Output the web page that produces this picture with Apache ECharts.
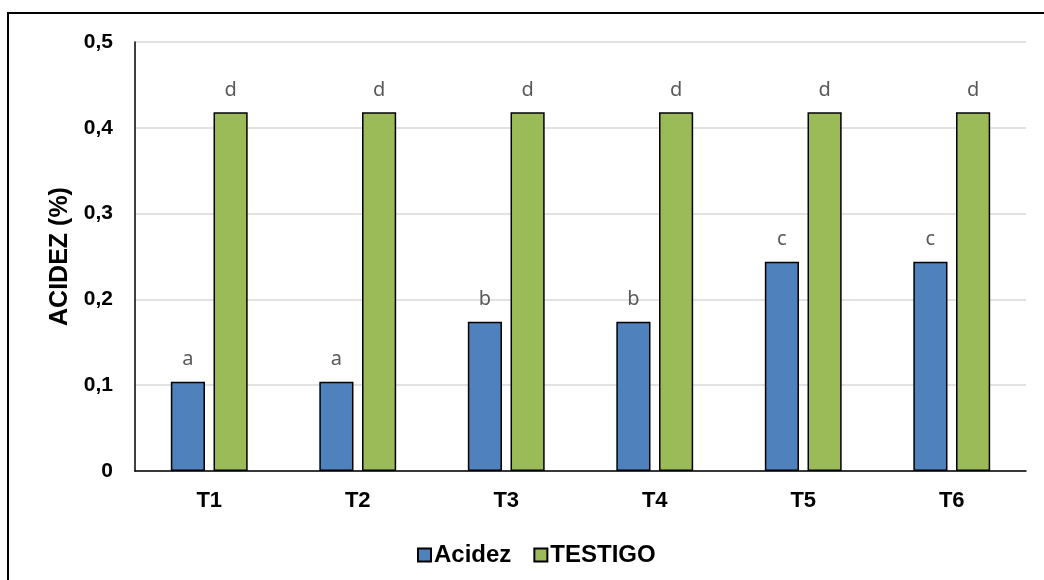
<!DOCTYPE html>
<html>
<head>
<meta charset="utf-8">
<script src="https://cdn.jsdelivr.net/npm/echarts@6/dist/echarts.min.js"></script>
<style>
  html, body { margin: 0; padding: 0; background: #fff; }
  #chart { width: 1044px; height: 580px; }
</style>
</head>
<body>
<div id="chart"></div>
<script>
// Treatments and measured acidity (%)
const categories = ['T1', 'T2', 'T3', 'T4', 'T5', 'T6'];
const acidez = [0.104, 0.104, 0.174, 0.174, 0.244, 0.244];
const testigo = [0.418, 0.418, 0.418, 0.418, 0.418, 0.418];
// Significance letters shown above each bar
const acidezLetters = ['a', 'a', 'b', 'b', 'c', 'c'];
const testigoLetters = ['d', 'd', 'd', 'd', 'd', 'd'];
const yTicks = ['0', '0,1', '0,2', '0,3', '0,4', '0,5'];

const chart = echarts.init(document.getElementById('chart'));
const font = 'Liberation Sans, Arial, sans-serif';

function letterLabel(letters) {
  return {
    show: true,
    position: 'top',
    distance: 12,
    color: '#595959',
    fontFamily: 'Noto Sans, Open Sans, sans-serif',
    fontSize: 20,
    formatter: p => letters[p.dataIndex]
  };
}

chart.setOption({
  animation: false,
  graphic: [{
    type: 'rect',
    shape: { x: 8, y: 13, width: 1200, height: 700 },
    style: { fill: 'none', stroke: '#000', lineWidth: 2 },
    silent: true
  }],
  grid: { left: 135, right: 18, top: 42, bottom: 109 },
  legend: {
    top: 538,
    left: 412,
    itemWidth: 13,
    itemHeight: 13,
    itemGap: 22,
    icon: 'rect',
    textStyle: { fontFamily: font, fontSize: 24, fontWeight: 'bold', color: '#000', padding: [0, 0, 0, -2] },
    data: ['Acidez', 'TESTIGO']
  },
  xAxis: {
    type: 'category',
    data: categories,
    axisLine: { lineStyle: { color: '#000', width: 1.5 } },
    axisTick: { show: false },
    axisLabel: { fontFamily: font, fontSize: 22, fontWeight: 'bold', color: '#000', margin: 19 }
  },
  yAxis: {
    type: 'value',
    min: 0, max: 0.5, interval: 0.1,
    name: 'ACIDEZ (%)',
    nameLocation: 'middle',
    nameGap: 61,
    nameTextStyle: { fontFamily: font, fontSize: 25, fontWeight: 'bold', color: '#000' },
    axisLine: { show: true, lineStyle: { color: '#000', width: 1.5 } },
    axisTick: { show: false },
    splitLine: { lineStyle: { color: '#d9d9d9', width: 1.5 } },
    axisLabel: {
      fontFamily: font, fontSize: 21, fontWeight: 'bold', color: '#000', margin: 22,
      formatter: (v) => yTicks[Math.round(v * 10)]
    }
  },
  series: [
    {
      name: 'Acidez',
      type: 'bar',
      data: acidez,
      barWidth: '23%',
      barGap: '25%',
      itemStyle: { color: '#4f81bd', borderColor: '#000', borderWidth: 1.5 },
      label: letterLabel(acidezLetters)
    },
    {
      name: 'TESTIGO',
      type: 'bar',
      data: testigo,
      barWidth: '23%',
      itemStyle: { color: '#9bbb59', borderColor: '#000', borderWidth: 1.5 },
      label: letterLabel(testigoLetters)
    }
  ]
});
</script>
</body>
</html>
